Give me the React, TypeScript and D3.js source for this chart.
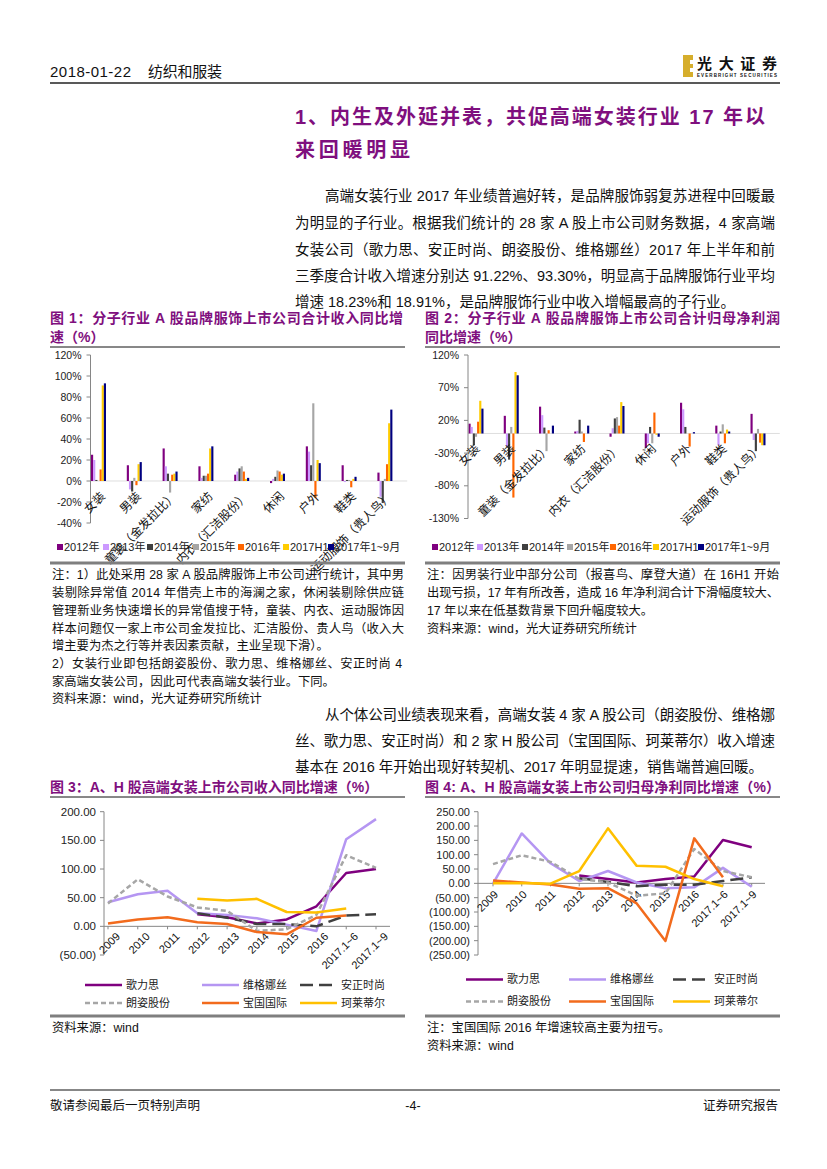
import React from 'react';
import * as d3 from 'd3';

// 图1 / 图2：分子行业同比增速（%）
const categories = ['女装', '男装', '童装（金发拉比）', '家纺', '内衣（汇洁股份）', '休闲', '户外', '鞋类', '运动服饰（贵人鸟）'];
const barSeries = ['2012年', '2013年', '2014年', '2015年', '2016年', '2017H1', '2017年1~9月'];
const barColors = ['#7F007F', '#CC99FF', '#404040', '#A6A6A6', '#FF6600', '#FFCC00', '#000080'];

const rev2012 = [25, 15, 31, 14, 6, -2, 33, 15, 8];
const rev2013 = [20, -8, 14, 3, 9, 2, 28, -1, -15];
const rev2014 = [1, -10, 7, 5, 12, 4, 15, 1, -21];
const rev2015 = [0, 3, -11, 5, 14, 10, 74, 1, 2];
const rev2016 = [11, -4, 6, 7, 9, 9, -16, -6, 16];
const rev2017H1 = [91, 16, 7, 31, 2, 6, 20, 2, 55];
const rev2017Q3 = [93, 18, 9, 33, 3, 7, 17, 4, 68];
const revTicks = [-40, -20, 0, 20, 40, 60, 80, 100, 120];

const prof2012 = [15, 27, 41, 3, -5, -22, 47, 12, 30];
const prof2013 = [10, -20, 28, 4, 8, -15, 37, -18, -10];
const prof2014 = [-18, -40, 9, 21, 23, 10, 10, 3, -27];
const prof2015 = [-5, 10, -27, 3, 25, -15, 0, 14, 7];
const prof2016 = [18, -98, 5, -13, 12, 32, -20, -15, -14];
const prof2017H1 = [50, 94, 0, 0, 48, -2, 0, 6, -18];
const prof2017Q3 = [38, 89, 12, 12, 42, -5, 2, 3, -18];
const profTicks = [-130, -80, -30, 20, 70, 120];

// 图3 / 图4：A、H 股高端女装公司
const years = ['2009', '2010', '2011', '2012', '2013', '2014', '2015', '2016', '2017.1~6', '2017.1~9'];
const companies = ['歌力思', '维格娜丝', '安正时尚', '朗姿股份', '宝国国际', '珂莱蒂尔'];
const lineColors = ['#7F007F', '#B596F2', '#404040', '#A6A6A6', '#F26B1D', '#FFC000'];
const lineDash = [null, null, '13 6', '5 3', null, null];

const glsRev = [null, null, null, 21, 16, 5, 12, 35, 93, 100];
const vgnsRev = [42, 56, 62, 23, 20, 14, 3, -8, 152, 187];
const azRev = [null, null, null, 23, 15, 4, 4, 0, 19, 21];
const lzRev = [40, 82, 52, 33, 27, -8, -5, 20, 124, 102];
const bgRev = [5, 12, 16, 7, 4, -10, -14, 15, 19, null];
const klRev = [null, null, null, 48, 45, 48, 25, 24, 31, null];
const revLineTicks = [-50, 0, 50, 100, 150, 200];

const glsProf = [null, null, null, 27, 15, 3, 15, 24, 151, 126];
const vgnsProf = [-1, 174, 70, 8, 43, 3, -17, -14, 54, -12];
const azProf = [null, null, null, 18, 5, -10, -5, -5, 8, 21];
const lzProf = [67, 98, 75, 16, 3, -43, -35, 120, 43, 21];
const bgProf = [10, 3, -4, -19, -17, -70, -201, 157, 21, null];
const klProf = [0, 1, -1, 43, 192, 61, 58, 15, -10, null];
const profLineTicks = [-250, -200, -150, -100, -50, 0, 50, 100, 150, 200, 250];

const FONT = "'Liberation Sans', Arial, 'Noto Sans CJK SC', sans-serif";
const PURPLE = '#7F0F7E';
const AXIS = '#868686';

const T = ({ x, y, children, size = 12, len, anchor = 'start', weight = 400, fill = '#111' }: any) => (
  <text x={x} y={y} fontSize={size} textLength={len} lengthAdjust={len ? 'spacing' : undefined}
    textAnchor={anchor} fontWeight={weight} fill={fill} fontFamily={FONT}>{children}</text>
);

const fmtNum = (v: number) => (v < 0 ? `(${Math.abs(v).toFixed(2)})` : v.toFixed(2));

function BarChart({ values, domain, ticks, top, bottom, axisX, step, legendXs, labelOff }: any) {
  const y = d3.scaleLinear().domain(domain).range([bottom, top]);
  const x = d3.scaleBand().domain(categories).range([axisX + 0.5, axisX + 0.5 + step * categories.length]);
  const sub = d3.scaleBand().domain(barSeries).range([0, 15]);
  const y0 = y(0);
  return (
    <g fontFamily={FONT}>
      <line x1={axisX} x2={x.range()[1] - 6} y1={y0} y2={y0} stroke="#D0D0D0" strokeWidth={0.7} />
      {values.map((vals: number[], si: number) =>
        vals.map((v, ci) => (
          <rect key={`${si}-${ci}`} x={x(categories[ci])! + sub(barSeries[si])!} width={sub.bandwidth()}
            y={Math.min(y(v), y0)} height={Math.abs(y(v) - y0)} fill={barColors[si]} />
        ))
      )}
      <line x1={axisX} x2={axisX} y1={top} y2={bottom} stroke={AXIS} />
      {ticks.map((t: number) => (
        <g key={t}>
          <line x1={axisX - 4} x2={axisX} y1={y(t)} y2={y(t)} stroke={AXIS} />
          <text x={axisX - 9} y={y(t)} dy="0.35em" textAnchor="end" fontSize={10.5} fill="#222">{t}%</text>
        </g>
      ))}
      {categories.map((c) => (
        <text key={c} transform={`translate(${x(c)! + labelOff[0]},${y0 + labelOff[1]}) rotate(-45)`}
          textAnchor="end" dy="0.35em" fontSize={12} fill="#111">{c}</text>
      ))}
      {barSeries.map((s, i) => (
        <g key={s}>
          <rect x={legendXs[i]} y={544} width={6} height={6} fill={barColors[i]} />
          <text x={legendXs[i] + 7} y={547} dy="0.35em" fontSize={11} fill="#222">{s}</text>
        </g>
      ))}
    </g>
  );
}

function LineChart({ series, domain, ticks, top, bottom, axisX, xRange, axisEnd, labelOff, tickSize, legendY, legendCols }: any) {
  const y = d3.scaleLinear().domain(domain).range([bottom, top]);
  const x = d3.scalePoint().domain(years).range(xRange);
  const y0 = y(0);
  const line = d3.line<any>()
    .defined((d) => d != null)
    .x((_, i) => x(years[i])!)
    .y((d) => y(d));
  return (
    <g fontFamily={FONT}>
      <line x1={axisX} x2={axisX} y1={top} y2={bottom} stroke={AXIS} />
      {ticks.map((t: number) => (
        <g key={t}>
          <line x1={axisX - 4} x2={axisX} y1={y(t)} y2={y(t)} stroke={AXIS} />
          <text x={axisX - 8} y={y(t)} dy="0.35em" textAnchor="end" fontSize={tickSize} fill="#222">{fmtNum(t)}</text>
        </g>
      ))}
      <line x1={axisX} x2={axisEnd} y1={y0} y2={y0} stroke={AXIS} />
      {years.map((yr) => (
        <g key={yr}>
          <line x1={x(yr)!} x2={x(yr)!} y1={y0} y2={y0 + 3} stroke={AXIS} />
          <text transform={`translate(${x(yr)! + labelOff[0]},${y0 + labelOff[1]}) rotate(-45)`}
            textAnchor="end" dy="0.35em" fontSize={11} fill="#111">{yr}</text>
        </g>
      ))}
      {series.map((vals: (number | null)[], i: number) => (
        <path key={i} d={line(vals)!} fill="none" stroke={lineColors[i]} strokeWidth={2.5}
          strokeDasharray={lineDash[i] || undefined} strokeLinejoin="round" />
      ))}
      {companies.map((c, i) => {
        const lx = legendCols[i % 3];
        const ly = legendY[Math.floor(i / 3)];
        return (
          <g key={c}>
            <line x1={lx} x2={lx + 37} y1={ly} y2={ly} stroke={lineColors[i]} strokeWidth={2.5}
              strokeDasharray={lineDash[i] || undefined} />
            <text x={lx + 41} y={ly} dy="0.35em" fontSize={11} fill="#222">{c}</text>
          </g>
        );
      })}
    </g>
  );
}

const para1: [string, number, number, number?][] = [
  ['高端女装行业 2017 年业绩普遍好转，是品牌服饰弱复苏进程中回暖最', 325, 201, 450],
  ['为明显的子行业。根据我们统计的 28 家 A 股上市公司财务数据，4 家高端', 295, 228, 480],
  ['女装公司（歌力思、安正时尚、朗姿股份、维格娜丝）2017 年上半年和前', 295, 255, 480],
  ['三季度合计收入增速分别达 91.22%、93.30%，明显高于品牌服饰行业平均', 295, 281, 480],
  ['增速 18.23%和 18.91%，是品牌服饰行业中收入增幅最高的子行业。', 295, 307],
];
const note1: [string, number, number, number?][] = [
  ['注：1）此处采用 28 家 A 股品牌服饰上市公司进行统计，其中男', 52, 579, 352],
  ['装剔除异常值 2014 年借壳上市的海澜之家，休闲装剔除供应链', 52, 597, 352],
  ['管理新业务快速增长的异常值搜于特，童装、内衣、运动服饰因', 52, 615, 352],
  ['样本问题仅一家上市公司金发拉比、汇洁股份、贵人鸟（收入大', 52, 633, 352],
  ['增主要为杰之行等并表因素贡献，主业呈现下滑）。', 52, 650],
  ['2）女装行业即包括朗姿股份、歌力思、维格娜丝、安正时尚 4', 52, 668, 350],
  ['家高端女装公司，因此可代表高端女装行业。下同。', 52, 686],
  ['资料来源：wind，光大证券研究所统计', 52, 703],
];
const note2: [string, number, number, number?][] = [
  ['注：因男装行业中部分公司（报喜鸟、摩登大道）在 16H1 开始', 427, 579, 352],
  ['出现亏损，17 年有所改善，造成 16 年净利润合计下滑幅度较大、', 427, 597, 352],
  ['17 年以来在低基数背景下回升幅度较大。', 427, 615],
  ['资料来源：wind，光大证券研究所统计', 427, 633],
];
const para2: [string, number, number, number?][] = [
  ['从个体公司业绩表现来看，高端女装 4 家 A 股公司（朗姿股份、维格娜', 325, 720, 450],
  ['丝、歌力思、安正时尚）和 2 家 H 股公司（宝国国际、珂莱蒂尔）收入增速', 295, 746, 480],
  ['基本在 2016 年开始出现好转契机、2017 年明显提速，销售端普遍回暖。', 295, 772, 468],
];

export default function App() {
  const lines = (arr: [string, number, number, number?][], size: number) =>
    arr.map(([t, x, y, len], i) => <T key={i} x={x} y={y} size={size} len={len}>{t}</T>);
  return (
    <svg width={827} height={1169} style={{ position: 'absolute', left: 0, top: 0, background: '#fff' }}>
      <rect width={827} height={1169} fill="#fff" />
      {/* header */}
      <T x={50} y={77} size={15} len={81}>2018-01-22</T>
      <T x={148} y={77} size={15} len={74}>纺织和服装</T>
      <rect x={683} y={55} width={10} height={22} fill="#D6AE2C" />
      <rect x={690} y={60} width={3} height={4} fill="#fff" />
      <rect x={690} y={68} width={3} height={4} fill="#fff" />
      <T x={697} y={69} size={15} weight={700} len={80} fill="#111">光大证券</T>
      <T x={697} y={77} size={4.5} weight={700} len={80} fill="#111">EVERBRIGHT SECURITIES</T>
      <line x1={50} x2={780} y1={83} y2={83} stroke="#222" strokeWidth={1.5} />

      {/* section title */}
      <T x={295} y={124} size={20} weight={700} fill={PURPLE} len={470}>1、内生及外延并表，共促高端女装行业 17 年以</T>
      <T x={295} y={157} size={20} weight={700} fill={PURPLE} len={115}>来回暖明显</T>
      {lines(para1, 14.5)}

      {/* figure 1 & 2 titles */}
      <T x={50} y={323} size={14} weight={700} fill={PURPLE} len={353}>图 1：分子行业 A 股品牌服饰上市公司合计收入同比增</T>
      <T x={50} y={342} size={14} weight={700} fill={PURPLE}>速（%）</T>
      <T x={425} y={323} size={14} weight={700} fill={PURPLE} len={355}>图 2：分子行业 A 股品牌服饰上市公司合计归母净利润</T>
      <T x={425} y={342} size={14} weight={700} fill={PURPLE}>同比增速（%）</T>
      <line x1={50} x2={405} y1={347} y2={347} stroke="#111" />
      <line x1={425} x2={780} y1={347} y2={347} stroke="#111" />

      <BarChart values={[rev2012, rev2013, rev2014, rev2015, rev2016, rev2017H1, rev2017Q3]}
        domain={[-40, 120]} ticks={revTicks} top={355} bottom={523} axisX={90.5} step={35.8}
        legendXs={[57, 103, 147, 193, 238, 283, 328]} labelOff={[12, 13]} />
      <BarChart values={[prof2012, prof2013, prof2014, prof2015, prof2016, prof2017H1, prof2017Q3]}
        domain={[-130, 120]} ticks={profTicks} top={355} bottom={518.5} axisX={468} step={35.25}
        legendXs={[432, 477, 522, 567, 610, 653, 698]} labelOff={[9, 13]} />

      <line x1={50} x2={405} y1={563} y2={563} stroke="#7F7F7F" strokeWidth={3} />
      <line x1={425} x2={780} y1={563} y2={563} stroke="#7F7F7F" strokeWidth={3} />
      {lines(note1, 12.3)}
      {lines(note2, 12.3)}
      {lines(para2, 14.5)}

      {/* figure 3 & 4 */}
      <T x={50} y={792} size={14} weight={700} fill={PURPLE}>图 3：A、H 股高端女装上市公司收入同比增速（%）</T>
      <T x={425} y={792} size={14} weight={700} fill={PURPLE} len={355}>图 4: A、H 股高端女装上市公司归母净利同比增速（%）</T>
      <line x1={50} x2={405} y1={797} y2={797} stroke="#111" />
      <line x1={425} x2={780} y1={797} y2={797} stroke="#111" />

      <LineChart series={[glsRev, vgnsRev, azRev, lzRev, bgRev, klRev]} domain={[-50, 200]} ticks={revLineTicks}
        top={811.7} bottom={955} axisX={104} xRange={[108, 376]} axisEnd={390} labelOff={[10, 8]} tickSize={11.5}
        legendY={[985, 1003]} legendCols={[85, 202, 300]} />
      <LineChart series={[glsProf, vgnsProf, azProf, lzProf, bgProf, klProf]} domain={[-250, 250]} ticks={profLineTicks}
        top={811.7} bottom={955} axisX={478} xRange={[493, 751.7]} axisEnd={765} labelOff={[3, 9]} tickSize={11}
        legendY={[979.5, 1001.5]} legendCols={[466, 569, 673]} />

      <line x1={50} x2={405} y1={1016} y2={1016} stroke="#7F7F7F" strokeWidth={3} />
      <line x1={425} x2={780} y1={1016} y2={1016} stroke="#7F7F7F" strokeWidth={3} />
      <T x={52} y={1031.5} size={12.3}>资料来源：wind</T>
      <T x={427} y={1031.5} size={12.3}>注：宝国国际 2016 年增速较高主要为扭亏。</T>
      <T x={427} y={1049.5} size={12.3}>资料来源：wind</T>

      {/* footer */}
      <line x1={50} x2={780} y1={1090} y2={1090} stroke="#111" strokeWidth={1.2} />
      <T x={50} y={1109.5} size={12.5}>敬请参阅最后一页特别声明</T>
      <T x={413} y={1109.5} size={12.5} anchor="middle">-4-</T>
      <T x={778} y={1109.5} size={12.5} anchor="end">证券研究报告</T>
    </svg>
  );
}
